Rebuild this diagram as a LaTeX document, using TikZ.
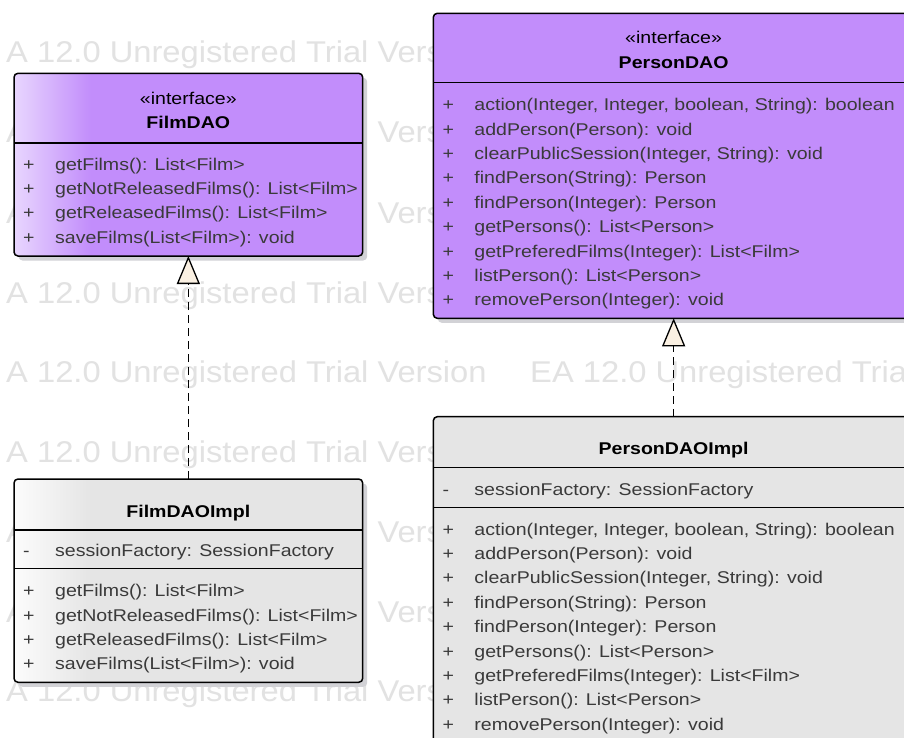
\documentclass[tikz,border=0pt]{standalone}
\usepackage{fontspec}
\setmainfont{Liberation Sans}
\usepackage{graphicx}
\usetikzlibrary{arrows.meta,shadows}

% colours
\definecolor{ifacefill}{RGB}{194,141,251}
\definecolor{ifacelight}{RGB}{232,214,254}
\definecolor{implfill}{RGB}{229,229,229}
\definecolor{impllight}{RGB}{252,252,252}
\definecolor{membertext}{RGB}{58,58,58}
\definecolor{markgray}{RGB}{226,226,226}
\definecolor{tipfill}{RGB}{250,240,226}
\definecolor{shadowgray}{RGB}{210,210,214}

% light band on the left edge of the class boxes
\pgfdeclarehorizontalshading{ifaceshade}{100bp}{color(0bp)=(ifacelight); color(25bp)=(ifacelight); color(36bp)=(ifacefill); color(100bp)=(ifacefill)}
\pgfdeclarehorizontalshading{implshade}{100bp}{color(0bp)=(impllight); color(25bp)=(impllight); color(36bp)=(implfill); color(100bp)=(implfill)}

\newcommand\widen[1]{\scalebox{1.15}[1]{#1}}
\newcommand\markwiden[1]{\scalebox{1.09}[1]{#1}}
\newcommand\memberfont{\fontsize{17}{20}\selectfont}
\newcommand\markfont{\fontsize{30}{32}\selectfont}

\tikzset{
  classbox/.style={draw=black, line width=1.5pt, rounded corners=4pt,
    inner sep=0pt, outer sep=0pt, anchor=north west,
    drop shadow={shadow xshift=4.5pt, shadow yshift=-4.5pt, fill=shadowgray, opacity=1}},
  sepline/.style={line width=1.4pt, draw=black},
  member/.style={anchor=base west, inner sep=0pt, text=membertext, font=\memberfont},
  stereo/.style={anchor=base, inner sep=0pt, text=black, font=\memberfont},
  cname/.style={anchor=base, inner sep=0pt, text=black, font=\memberfont\bfseries},
  watermark/.style={anchor=base west, inner sep=0pt, text=markgray, font=\markfont},
  realize/.style={draw=black, line width=1.3pt, dash pattern=on 8pt off 5pt,
    -{Triangle[width=23pt,length=28pt,fill=tipfill]}}
}

\begin{document}
\begin{tikzpicture}[x=1pt,y=-1pt]
\useasboundingbox (0,0) rectangle (904,738);
\clip (0,0) rectangle (904,738);
\fill[white] (0,0) rectangle (904,738);

% trial watermark rows
\foreach \yy [count=\k] in {63,143,223,303,382.5,462,542,622,701.5} {
  \node[watermark] (wmL\k) at (6,\yy) {\markwiden{A 12.0 Unregistered Trial Version}};
  \node[watermark] (wmR\k) at (530,\yy) {\markwiden{EA 12.0 Unregistered Trial Version}};
}

% class boxes
\node[classbox, shade, shading=ifaceshade, minimum width=348.7pt, minimum height=182.7pt] (fd) at (14,73.3) {};
\node[classbox, shade, shading=implshade, minimum width=348.7pt, minimum height=203.3pt] (fdi) at (14,479) {};
\node[classbox, fill=ifacefill, minimum width=480.7pt, minimum height=305pt] (pd) at (433.3,13.3) {};
\node[classbox, fill=implfill, minimum width=480.7pt, minimum height=340pt] (pdi) at (433.3,416.7) {};

% compartment separators
\draw[sepline] (14,143) -- (362.7,143);
\draw[sepline] (14,530) -- (362.7,530);
\draw[sepline] (14,568.3) -- (362.7,568.3);
\draw[sepline] (433.3,82.7) -- (914,82.7);
\draw[sepline] (433.3,467.7) -- (914,467.7);
\draw[sepline] (433.3,507.3) -- (914,507.3);

% FilmDAO
\node[stereo] (fd-st) at (188.3,105) {\widen{«interface»}};
\node[cname] (fd-nm) at (188.3,128.3) {\widen{FilmDAO}};
\foreach \txt [count=\i from 0] in {{getFilms(): List<Film>},{getNotReleasedFilms(): List<Film>},{getReleasedFilms(): List<Film>},{saveFilms(List<Film>): void}}
  \node[member] (fd-op\i) at (23,{170.3+24.3*\i}) {\widen{\makebox[27.8pt][l]{+}\txt}};

% FilmDAOImpl
\node[cname] (fdi-nm) at (188.3,517.3) {\widen{FilmDAOImpl}};
\node[member] (fdi-at) at (23,556.7) {\widen{\makebox[27.8pt][l]{-}sessionFactory: SessionFactory}};
\foreach \txt [count=\i from 0] in {{getFilms(): List<Film>},{getNotReleasedFilms(): List<Film>},{getReleasedFilms(): List<Film>},{saveFilms(List<Film>): void}}
  \node[member] (fdi-op\i) at (23,{596.7+24.4*\i}) {\widen{\makebox[27.8pt][l]{+}\txt}};

% PersonDAO
\node[stereo] (pd-st) at (673.6,44) {\widen{«interface»}};
\node[cname] (pd-nm) at (673.6,68.3) {\widen{PersonDAO}};
\foreach \txt [count=\i from 0] in {{action(Integer, Integer, boolean, String): boolean},{addPerson(Person): void},{clearPublicSession(Integer, String): void},{findPerson(String): Person},{findPerson(Integer): Person},{getPersons(): List<Person>},{getPreferedFilms(Integer): List<Film>},{listPerson(): List<Person>},{removePerson(Integer): void}}
  \node[member] (pd-op\i) at (442.3,{110.7+24.4*\i}) {\widen{\makebox[27.8pt][l]{+}\txt}};

% PersonDAOImpl
\node[cname] (pdi-nm) at (673.6,454.3) {\widen{PersonDAOImpl}};
\node[member] (pdi-at) at (442.3,495) {\widen{\makebox[27.8pt][l]{-}sessionFactory: SessionFactory}};
\foreach \txt [count=\i from 0] in {{action(Integer, Integer, boolean, String): boolean},{addPerson(Person): void},{clearPublicSession(Integer, String): void},{findPerson(String): Person},{findPerson(Integer): Person},{getPersons(): List<Person>},{getPreferedFilms(Integer): List<Film>},{listPerson(): List<Person>},{removePerson(Integer): void}}
  \node[member] (pdi-op\i) at (442.3,{535+24.4*\i}) {\widen{\makebox[27.8pt][l]{+}\txt}};

% realizations
\draw[realize] (fdi.north) -- (fd.south);
\draw[realize] (pdi.north) -- (pd.south);
\end{tikzpicture}
\end{document}
